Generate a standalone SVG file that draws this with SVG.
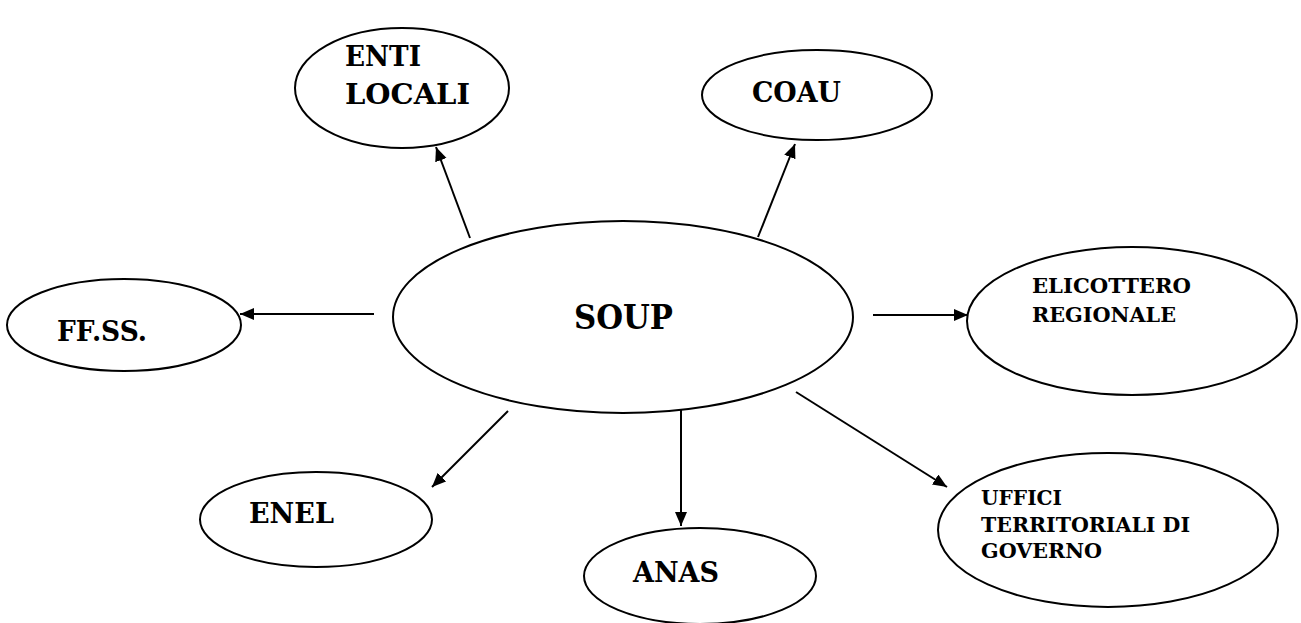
<svg xmlns="http://www.w3.org/2000/svg" width="1301" height="623" viewBox="0 0 1301 623">
<style>
.n{fill:#fff;stroke:#000;stroke-width:2}
.t{font-family:'DejaVu Serif','Liberation Serif',serif;font-weight:bold;fill:#000}
.c{stroke:#000;stroke-width:2;fill:none;marker-end:url(#ah)}
</style>
<defs>
<marker id="ah" markerUnits="userSpaceOnUse" markerWidth="15" markerHeight="13" refX="14" refY="6" orient="auto">
<path d="M0,0 L14,6 L0,12 z" fill="#000"/>
</marker>
</defs>
<rect width="1301" height="623" fill="#fff"/>
<g id="connectors">
<line class="c" x1="470" y1="238" x2="436" y2="147"/>
<line class="c" x1="758" y1="237" x2="795" y2="144"/>
<line class="c" x1="374" y1="314" x2="240" y2="314"/>
<line class="c" x1="873" y1="315" x2="968" y2="315"/>
<line class="c" x1="508" y1="411" x2="432" y2="487"/>
<line class="c" x1="681" y1="410" x2="681" y2="526"/>
<line class="c" x1="796" y1="392" x2="947" y2="487"/>
</g>
<g id="soup">
<ellipse class="n" cx="623" cy="317" rx="230" ry="96"/>
<text class="t" x="574" y="329" font-size="34" textLength="99" lengthAdjust="spacingAndGlyphs">SOUP</text>
</g>
<g id="enti-locali">
<ellipse class="n" cx="402" cy="88" rx="107" ry="60"/>
<text class="t" x="345" y="66" font-size="28" textLength="76" lengthAdjust="spacingAndGlyphs">ENTI</text>
<text class="t" x="345" y="104" font-size="28" textLength="125" lengthAdjust="spacingAndGlyphs">LOCALI</text>
</g>
<g id="coau">
<ellipse class="n" cx="817" cy="95" rx="115" ry="45"/>
<text class="t" x="752" y="102" font-size="28" textLength="89" lengthAdjust="spacingAndGlyphs">COAU</text>
</g>
<g id="ffss">
<ellipse class="n" cx="124" cy="325" rx="117" ry="46"/>
<text class="t" x="57" y="341" font-size="28" textLength="90" lengthAdjust="spacingAndGlyphs">FF.SS.</text>
</g>
<g id="elicottero">
<ellipse class="n" cx="1132" cy="321" rx="165" ry="74"/>
<text class="t" x="1032" y="293" font-size="21" textLength="159" lengthAdjust="spacingAndGlyphs">ELICOTTERO</text>
<text class="t" x="1032" y="322" font-size="21" textLength="144" lengthAdjust="spacingAndGlyphs">REGIONALE</text>
</g>
<g id="enel">
<ellipse class="n" cx="316" cy="519.5" rx="116" ry="47.5"/>
<text class="t" x="249" y="523" font-size="28" textLength="85" lengthAdjust="spacingAndGlyphs">ENEL</text>
</g>
<g id="anas">
<ellipse class="n" cx="700" cy="576" rx="116" ry="48"/>
<text class="t" x="633" y="582" font-size="28" textLength="86" lengthAdjust="spacingAndGlyphs">ANAS</text>
</g>
<g id="uffici">
<ellipse class="n" cx="1108" cy="530" rx="170" ry="77"/>
<text class="t" x="981" y="505" font-size="21" textLength="81" lengthAdjust="spacingAndGlyphs">UFFICI</text>
<text class="t" x="981" y="532" font-size="21" textLength="209" lengthAdjust="spacingAndGlyphs">TERRITORIALI DI</text>
<text class="t" x="981" y="558" font-size="21" textLength="121" lengthAdjust="spacingAndGlyphs">GOVERNO</text>
</g>
</svg>
